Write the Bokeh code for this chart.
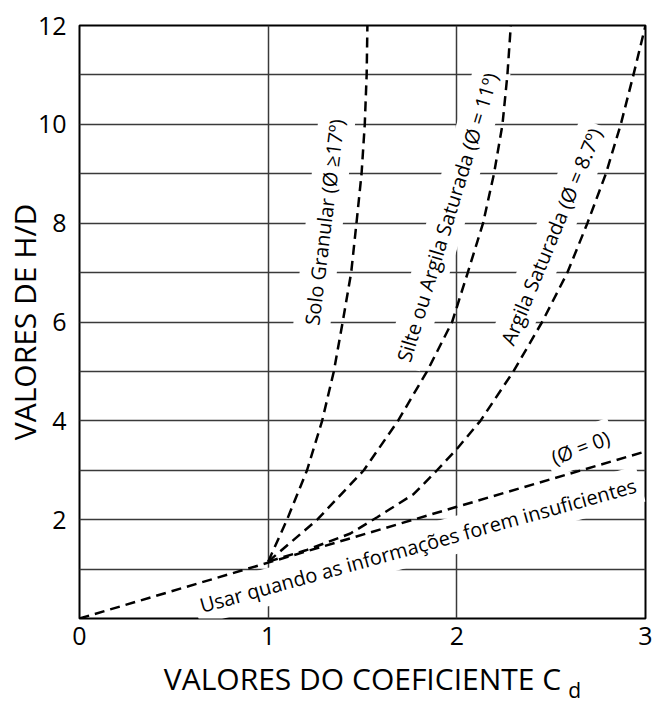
from bokeh.plotting import figure
from bokeh.models import FixedTicker, Label, Range1d
from bokeh.embed import file_html
from bokeh.resources import INLINE

# ---- data ----
x_ticks = [0, 1, 2, 3]
y_ticks = [2, 4, 6, 8, 10, 12]
x_grid = [1, 2]
y_grid = [1, 2, 3, 4, 5, 6, 7, 8, 9, 10, 11]

# Solo Granular (Ø ≥ 17º)
solo_x = [1.0, 1.10, 1.206, 1.286, 1.348, 1.395, 1.44, 1.468, 1.495, 1.512, 1.522, 1.526]
solo_y = [1.15, 2, 3, 4, 5, 6, 7, 8, 9, 10, 11, 12]

# Silte ou Argila Saturada (Ø = 11º)
silte_x = [1.0, 1.26, 1.507, 1.688, 1.842, 1.975, 2.058, 2.139, 2.197, 2.242, 2.268, 2.286]
silte_y = [1.15, 2, 3, 4, 5, 6, 7, 8, 9, 10, 11, 12]

# Argila Saturada (Ø = 8.7º)
argila_x = [1.0, 1.2, 1.436, 1.578, 1.657, 1.772, 1.895, 2.0, 2.125, 2.30, 2.452, 2.586, 2.692, 2.79, 2.869, 2.936, 3.0]
argila_y = [1.15, 1.38, 1.72, 2.05, 2.24, 2.52, 3.0, 3.43, 4, 5, 6, 7, 8, 9, 10, 11, 12]

# (Ø = 0)
zero_x = [0, 1, 2, 3]
zero_y = [0, 1.13, 2.26, 3.38]

labels = [
    # text, x, y, angle (deg)
    ("Solo Granular (Ø ≥17º)", 1.298, 8.02, 83.0),
    ("Silte ou Argila Saturada (Ø = 11º)", 1.950, 8.12, 73.0),
    ("Argila Saturada (Ø = 8.7º)", 2.501, 7.73, 67.5),
    ("(Ø = 0)", 2.655, 3.46, 20.6),
    ("Usar quando as informações forem insuficientes", 1.794, 1.478, 15.5),
]

FONT = "Open Sans"
D_PANEL = 28   # estimated height of the side panel taken by the subscript label

p = figure(width=654, height=702,
           x_range=Range1d(0, 3), y_range=Range1d(0, 12),
           output_backend="svg", toolbar_location=None,
           min_border_left=79, min_border_right=9,
           min_border_top=25, min_border_bottom=84)

p.background_fill_color = "white"
p.border_fill_color = "white"
p.outline_line_color = "black"
p.outline_line_width = 2
p.outline_line_alpha = 1.0

p.xaxis.ticker = FixedTicker(ticks=x_ticks)
p.yaxis.ticker = FixedTicker(ticks=y_ticks)
p.xgrid.ticker = FixedTicker(ticks=x_grid)
p.ygrid.ticker = FixedTicker(ticks=y_grid)
for g in (p.xgrid, p.ygrid):
    g.grid_line_color = "#3a3a3a"
    g.grid_line_width = 1.5
    g.grid_line_alpha = 1.0

for ax in (p.xaxis, p.yaxis):
    ax.major_tick_line_color = None
    ax.minor_tick_line_color = None
    ax.axis_line_color = None
    ax.major_label_text_font = FONT
    ax.major_label_text_font_size = "25px"
    ax.major_label_text_color = "black"
    ax.axis_label_text_font = FONT
    ax.axis_label_text_font_size = "30px"
    ax.axis_label_text_font_style = "normal"
    ax.axis_label_text_color = "black"

p.xaxis.axis_label = "VALORES DO COEFICIENTE C"
p.yaxis.axis_label = "VALORES DE H/D"
p.xaxis.major_label_standoff = 2 - D_PANEL
p.yaxis.major_label_standoff = 7
p.xaxis.axis_label_standoff = 10
p.yaxis.axis_label_standoff = -10

for text, lx, ly, ang in labels:
    p.add_layout(Label(x=lx, y=ly, text=text, angle=ang, angle_units="deg",
                       text_align="center", text_baseline="middle",
                       text_font=FONT, text_font_size="20px", text_color="black",
                       background_fill_color="white", background_fill_alpha=1.0,
                       padding=5, level="underlay"))

# subscript d of C_d: put in the bottom side panel (next to the frame) so it is not clipped
d_label = Label(x=2.625, y=-1.44, text="d", text_align="center", text_baseline="alphabetic",
                text_font=FONT, text_font_size="21px", text_color="black")
p.below = [d_label] + list(p.below)

dash = dict(line_color="black", line_width=2.5, line_dash="10 6")
p.line(zero_x, zero_y, **dash)
p.line(solo_x, solo_y, **dash)
p.line(silte_x, silte_y, **dash)
p.line(argila_x, argila_y, **dash)

open("out.html", "w").write(file_html(p, INLINE))
